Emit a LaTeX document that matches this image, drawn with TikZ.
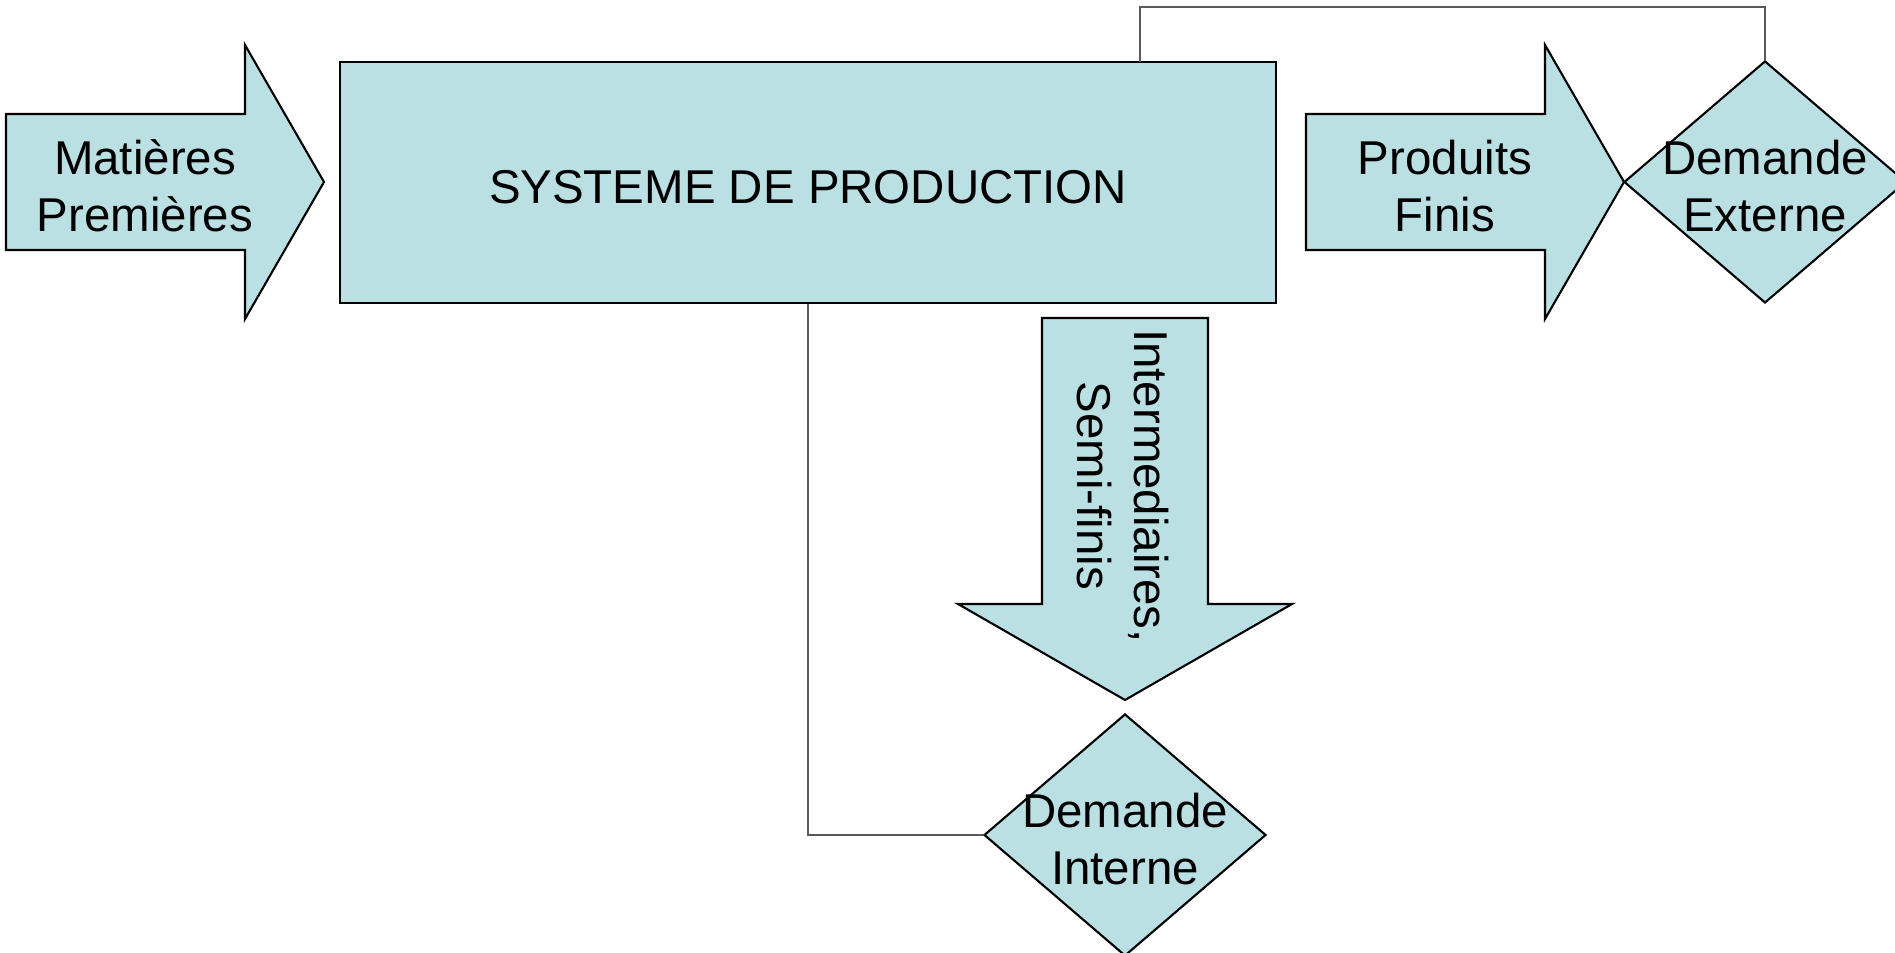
\documentclass[tikz,border=0pt]{standalone}
\usepackage{fontspec}
\setmainfont{Liberation Sans}
\usetikzlibrary{shapes.geometric}
\definecolor{flowblue}{RGB}{187,224,227}
\tikzset{
      flow/.style={
        draw=black,
        line width=0.6pt,
        fill=flowblue,
        line join=miter
      },
      sysbox/.style={
        flow,
        rectangle,
        minimum width=93.6mm,
        minimum height=24.1mm,
        inner sep=0pt
      },
      demand/.style={
        flow,
        diamond,
        minimum width=28.2mm,
        minimum height=24.2mm,
        inner sep=0pt
      },
      caption/.style={align=center, inner sep=0pt},
      link/.style={draw=black!65, line width=0.35pt}
    }

\begin{document}
\begin{tikzpicture}[x=0.1mm,y=0.1mm,font=\fontsize{13.5}{16.2}\selectfont]
    \useasboundingbox (0,0) rectangle (1895,953);
    % block arrows
    \draw[flow] (6,839) -- (245,839) -- (245,908) -- (324,771) -- (245,634) -- (245,703) -- (6,703) -- cycle;
    \draw[flow] (1306,839) -- (1545,839) -- (1545,908) -- (1624,771) -- (1545,634) -- (1545,703) -- (1306,703) -- cycle;
    \draw[flow] (1042,635) -- (1042,349) -- (958,349) -- (1125,253) -- (1292,349) -- (1208,349) -- (1208,635) -- cycle;
    \node[caption] (raw) at (145,767) {Matières\\Premières};
    \node[caption] (fin) at (1445,767) {Produits\\Finis};
    \node[caption, rotate=-90] (semi) at (1123,467) {Intermediaires,\\Semi-finis};
    % production system and demands
    \node[sysbox] (sys) at (808,770.5) {};
    \node[caption] (syslbl) at (808,766) {SYSTEME DE PRODUCTION};
    \node[demand] (ext) at (1765,771) {};
    \node[caption] (extlbl) at (1765,767) {Demande\\Externe};
    \node[demand] (int) at (1125,118) {};
    \node[caption] (intlbl) at (1125,114) {Demande\\Interne};
    \coordinate (tap) at (1140,891);
    \draw[link] (tap) -- ++(0,55) -| (ext.north);
    \draw[link] (sys.south) |- (int.west);
    \end{tikzpicture}
\end{document}
